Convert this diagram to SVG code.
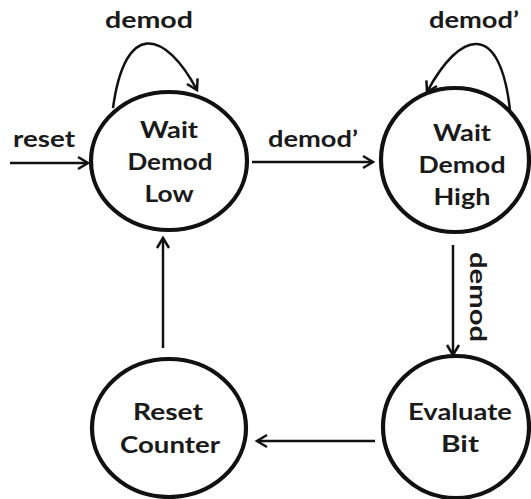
<svg xmlns="http://www.w3.org/2000/svg" width="531" height="499" viewBox="0 0 531 499">
<style>
.node{fill:none;stroke:#111;stroke-width:4.2}
.t{font-family:Lato,"Open Sans",sans-serif;font-weight:bold;font-size:23px;fill:#1a1a1a;text-anchor:middle}
.edge{fill:none;stroke:#111;stroke-width:2.5;marker-end:url(#ah)}
</style>
<defs>
<marker id="ah" markerUnits="userSpaceOnUse" markerWidth="20" markerHeight="20" viewBox="-12 -10 14 20" refX="0" refY="0" orient="auto">
<path d="M-10,-6 L0,0 L-10,6" fill="none" stroke="#111" stroke-width="2.5"/>
</marker>
</defs>
<rect width="531" height="499" fill="#fff"/>
<g id="connectors">
<path class="edge" d="M10,163 L88,163"/>
<path class="edge" d="M113,108 C125,20 165,30 197,90"/>
<path class="edge" d="M252,162 L373,162"/>
<path class="edge" d="M510,110 C500,20 460,30 427,92"/>
<path class="edge" d="M453,245 L453,355"/>
<path class="edge" d="M375,441 L257,441"/>
<path class="edge" d="M163,348 L163,238"/>
<text class="t" x="44" y="147" textLength="62" lengthAdjust="spacingAndGlyphs">reset</text>
<text class="t" x="149" y="28" textLength="88" lengthAdjust="spacingAndGlyphs">demod</text>
<text class="t" x="313" y="147" textLength="90" lengthAdjust="spacingAndGlyphs">demod’</text>
<text class="t" x="474" y="28" textLength="90" lengthAdjust="spacingAndGlyphs">demod’</text>
<text class="t" transform="translate(470,297) rotate(90)" textLength="90" lengthAdjust="spacingAndGlyphs">demod</text>
</g>
<g id="wait-demod-low">
<ellipse class="node" cx="169" cy="161" rx="78" ry="69"/>
<text class="t" x="169" y="138" textLength="58" lengthAdjust="spacingAndGlyphs">Wait</text>
<text class="t" x="170" y="170" textLength="85" lengthAdjust="spacingAndGlyphs">Demod</text>
<text class="t" x="169" y="202" textLength="49" lengthAdjust="spacingAndGlyphs">Low</text>
</g>
<g id="wait-demod-high">
<ellipse class="node" cx="455" cy="160" rx="74" ry="72"/>
<text class="t" x="462" y="141" textLength="58" lengthAdjust="spacingAndGlyphs">Wait</text>
<text class="t" x="462" y="173" textLength="87" lengthAdjust="spacingAndGlyphs">Demod</text>
<text class="t" x="462" y="205" textLength="57" lengthAdjust="spacingAndGlyphs">High</text>
</g>
<g id="evaluate-bit">
<ellipse class="node" cx="456" cy="427" rx="73" ry="71"/>
<text class="t" x="460" y="420" textLength="104" lengthAdjust="spacingAndGlyphs">Evaluate</text>
<text class="t" x="460" y="452" textLength="38" lengthAdjust="spacingAndGlyphs">Bit</text>
</g>
<g id="reset-counter">
<ellipse class="node" cx="169" cy="428" rx="77" ry="69"/>
<text class="t" x="168" y="420" textLength="70" lengthAdjust="spacingAndGlyphs">Reset</text>
<text class="t" x="170" y="453" textLength="100" lengthAdjust="spacingAndGlyphs">Counter</text>
</g>
</svg>
